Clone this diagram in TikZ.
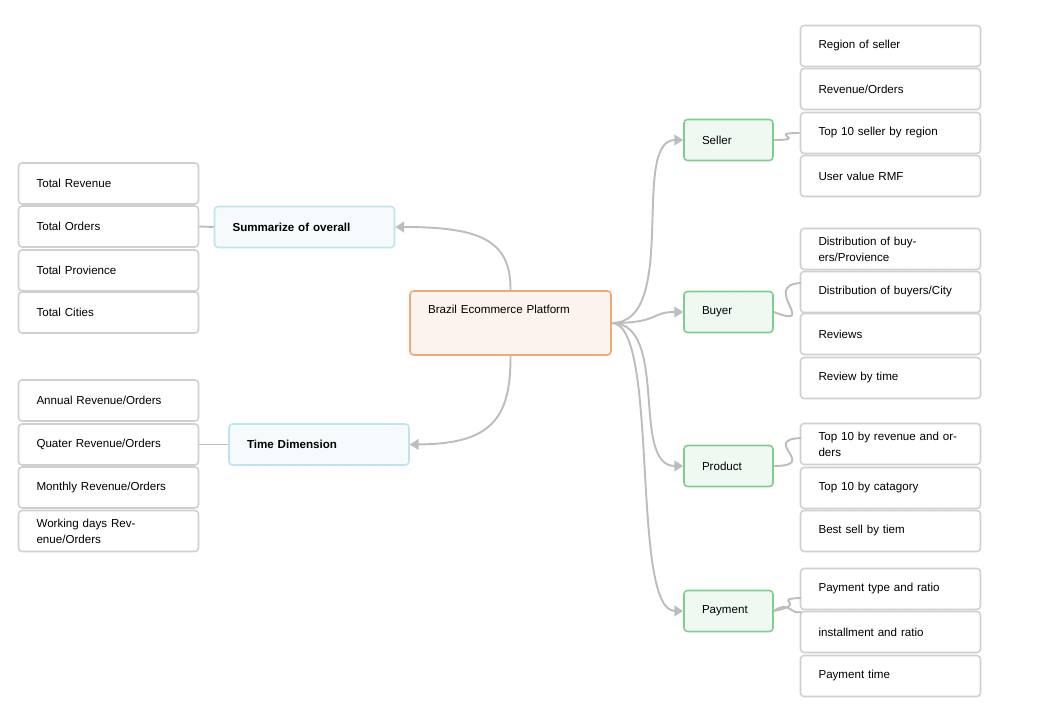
\documentclass[tikz,border=0pt]{standalone}
\usepackage{fontspec}
\setmainfont{Liberation Sans}
\usetikzlibrary{arrows.meta}
\definecolor{linegray}{HTML}{BDBDBD}
\definecolor{boxgray}{HTML}{D0D0D0}
\definecolor{greenline}{HTML}{7FCF8C}
\definecolor{greenfill}{HTML}{F0F9F1}
\definecolor{blueline}{HTML}{BFE4EE}
\definecolor{bluefill}{HTML}{F5FBFD}
\definecolor{orangeline}{HTML}{F0A878}
\definecolor{orangefill}{HTML}{FDF3EE}
\tikzset{
  leaf/.style={draw=boxgray,line width=0.9pt,rounded corners=2pt,fill=white,
    minimum width=3.6cm,minimum height=0.82cm,text width=2.88cm,inner xsep=0.36cm,
    align=left,font=\fontsize{6.6}{9}\selectfont},
  topic/.style={leaf,draw=greenline,fill=greenfill,minimum width=1.78cm,text width=1.06cm},
  group/.style={leaf,draw=blueline,fill=bluefill,font=\fontsize{6.6}{9}\selectfont\bfseries},
  link/.style={draw=linegray,line width=1.1pt},
  arr/.style={link,-{Triangle[length=5pt,width=6pt]}}
}
\begin{document}
\begin{tikzpicture}[x=0.02cm,y=-0.02cm]
		\useasboundingbox (0,0) rectangle (1056,722);
		% dotted canvas
		\foreach \i in {0,...,52}
			\foreach \j in {0,...,35}
				\fill[black!18] (\i*20+10,\j*20+10) circle (0.25pt);

		% centre
		\node (root) [leaf,draw=orangeline,fill=orangefill,minimum width=4.02cm,minimum height=1.28cm,
			text width=3.3cm,text depth=0.55cm] at (510.5,323) {Brazil Ecommerce Platform};

		% left groups
		\node (summ) [group,text width=2.88cm] at (304.5,227) {Summarize of overall};
		\node (time) [group,text width=2.88cm] at (319,444.5) {Time Dimension};
		\node (trev) [leaf] at (108.5,183.5) {Total Revenue};
		\node (tord) [leaf] at (108.5,226.5) {Total Orders};
		\node (tprov) [leaf] at (108.5,270.5) {Total Provience};
		\node (tcity) [leaf] at (108.5,312.5) {Total Cities};
		\node (annual) [leaf] at (108.5,400.5) {Annual Revenue/Orders};
		\node (quater) [leaf] at (108.5,444.5) {Quater Revenue/Orders};
		\node (monthly) [leaf] at (108.5,487.5) {Monthly Revenue/Orders};
		\node (working) [leaf] at (108.5,531) {Working days Revenue/Orders};

		% right topics
		\node (seller) [topic] at (728.5,140) {Seller};
		\node (buyer) [topic] at (728.5,312) {Buyer};
		\node (product) [topic] at (728.5,466) {Product};
		\node (payment) [topic] at (728.5,611) {Payment};

		\node (s1) [leaf] at (890.5,46) {Region of seller};
		\node (s2) [leaf] at (890.5,89) {Revenue/Orders};
		\node (s3) [leaf] at (890.5,133) {Top 10 seller by region};
		\node (s4) [leaf] at (890.5,176) {User value RMF};
		\node (b1) [leaf] at (890.5,249) {Distribution of buyers/Provience};
		\node (b2) [leaf] at (890.5,292) {Distribution of buyers/City};
		\node (b3) [leaf] at (890.5,334) {Reviews};
		\node (b4) [leaf] at (890.5,378) {Review by time};
		\node (p1) [leaf] at (890.5,444) {Top 10 by revenue and orders};
		\node (p2) [leaf] at (890.5,488) {Top 10 by catagory};
		\node (p3) [leaf] at (890.5,531) {Best sell by tiem};
		\node (y1) [leaf] at (890.5,589) {Payment type and ratio};
		\node (y2) [leaf] at (890.5,632) {installment and ratio};
		\node (y3) [leaf] at (890.5,676) {Payment time};

		% connectors
		\begin{scope}[on background layer/.try]
		\draw[arr] (root.north) .. controls (511,240) and (480,227) .. (summ.east);
		\draw[arr] (root.south) .. controls (511,420) and (490,444) .. (time.east);
		\draw[link] (summ.west) -- (tord.east);
		\draw[link] (time.west) -- (quater.east);
		\draw[arr] (root.east) .. controls (680,323) and (630,140) .. (seller.west);
		\draw[arr] (root.east) .. controls (660,323) and (650,312) .. (buyer.west);
		\draw[arr] (root.east) .. controls (670,323) and (630,466) .. (product.west);
		\draw[arr] (root.east) .. controls (660,323) and (630,611) .. (payment.west);
		\draw[link] (seller.east) .. controls (810,140) and (765,133) .. (s3.west);
		\draw[link] (buyer.east) .. controls (820,330) and (760,285) .. (801,283);
		\draw[link] (product.east) .. controls (820,466) and (760,440) .. (801,438);
		\draw[link] (payment.east) .. controls (810,604) and (770,599) .. (801,598);
		\draw[link] (payment.east) .. controls (790,600) and (790,615) .. (801,612);
		\end{scope}
	\end{tikzpicture}
\end{document}
